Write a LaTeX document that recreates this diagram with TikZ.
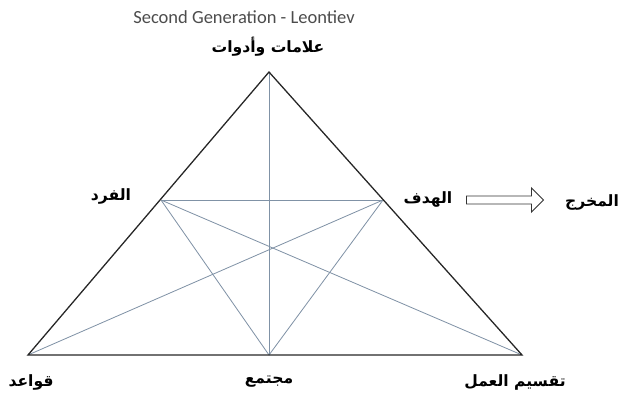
\documentclass[tikz,border=0pt]{standalone}
\usepackage{fontspec}
\setmainfont{Carlito}
\newfontfamily\arabicfont[Script=Arabic]{DejaVu Sans}
\TeXXeTstate=1
\usetikzlibrary{shapes.arrows}
\definecolor{steel}{RGB}{128,146,166}
\newcommand{\ar}[1]{{\arabicfont\bfseries\beginR #1\endR}}

\begin{document}
\begin{tikzpicture}[
 x=0.03cm, y=-0.03cm,
 side/.style={draw=black!85, line width=1.1pt},
 inner/.style={draw=steel, line width=0.7pt},
 lbl/.style={inner sep=1pt, font=\fontsize{13.3}{15}\selectfont},
 outarrow/.style={single arrow, draw=black!80, fill=white, line width=0.7pt,
   single arrow head extend=2.4mm, inner sep=1.1mm, single arrow head indent=0pt}]
\useasboundingbox (0,0) rectangle (621,393);
% vertices
\coordinate (apex) at (269,72);
\coordinate (lmid) at (161,200);
\coordinate (rmid) at (383,200);
\coordinate (bl) at (28,355);
\coordinate (bm) at (269,355);
\coordinate (br) at (522,355);
% labels
\node[text=black!70, font=\fontsize{15.8}{17}\selectfont] (title) at (244,17) {Second Generation - Leontiev};
\node[lbl] (tools) at (268,47) {\ar{علامات وأدوات}};
\node[lbl] (subj) at (111,196) {\ar{الفرد}};
\node[lbl] (obj) at (428,199) {\ar{الهدف}};
\node[lbl] (outc) at (592,202) {\ar{المخرج}};
\node[lbl] (rules) at (31,382) {\ar{قواعد}};
\node[lbl] (comm) at (269,382) {\ar{مجتمع}};
\node[lbl] (div) at (515,382) {\ar{تقسيم العمل}};
\node[outarrow, minimum height=77*0.03cm] (arw) at (503,200) {};
% inner lines
\draw[inner] (apex) -- (bm);
\draw[inner] (lmid) -- (rmid);
\draw[inner] (lmid) -- (bm) -- (rmid);
\draw[inner] (lmid) -- (br);
\draw[inner] (rmid) -- (bl);
% triangle
\draw[side] (apex) -- (br) -- (bl) -- cycle;
\end{tikzpicture}
\end{document}
